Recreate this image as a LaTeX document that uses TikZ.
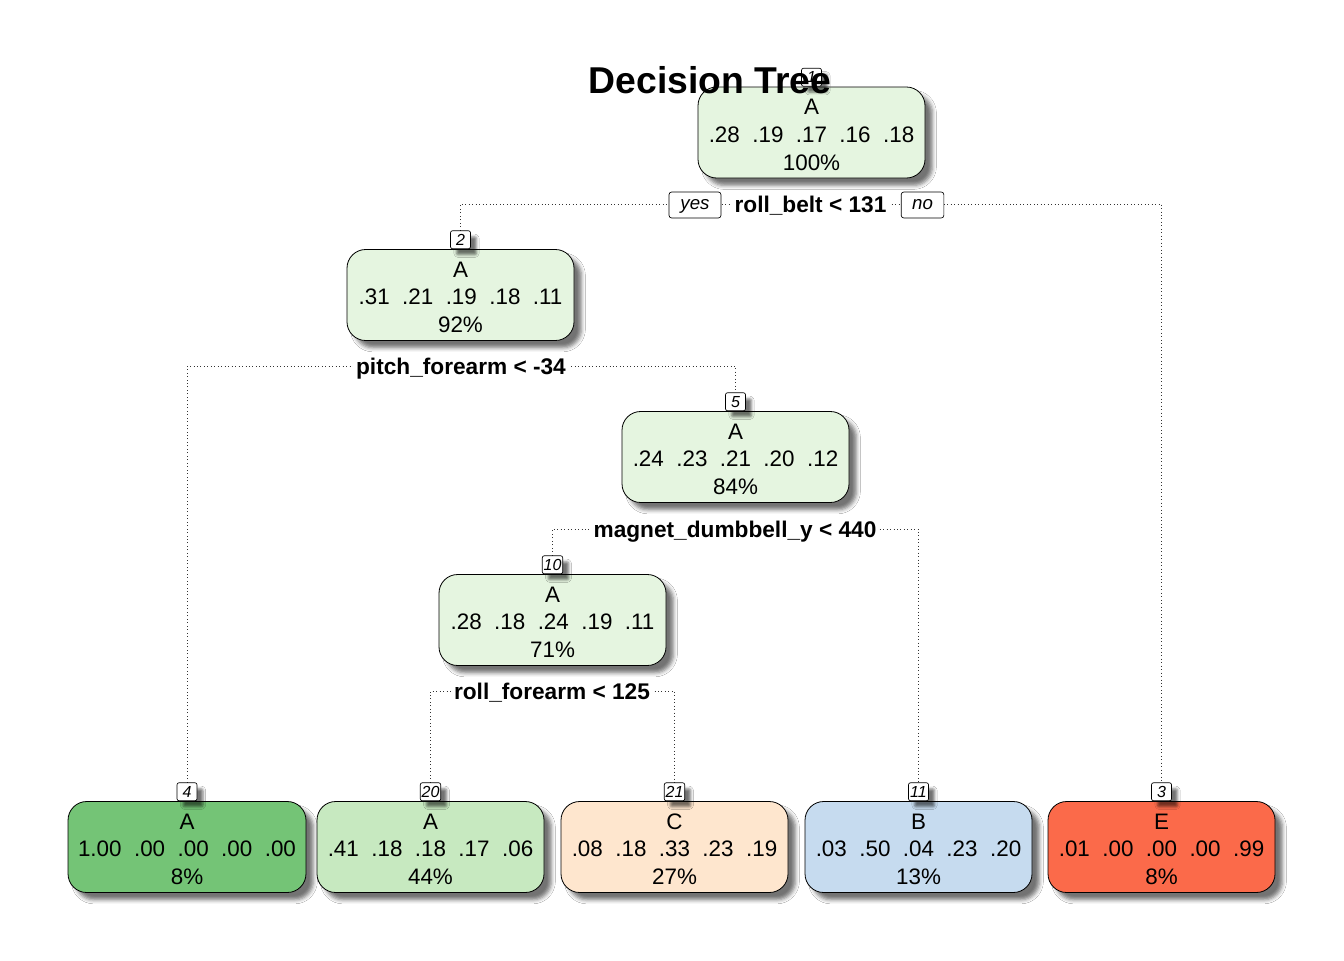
\documentclass[tikz,border=0pt]{standalone}
\usepackage{fontspec}
\setmainfont{Liberation Sans}
\usetikzlibrary{shadows.blur}
\definecolor{innerc}{HTML}{E5F5E0}
\definecolor{leafA}{HTML}{74C476}
\definecolor{leafAl}{HTML}{C7E9C0}
\definecolor{leafC}{HTML}{FEE6CE}
\definecolor{leafB}{HTML}{C6DBEF}
\definecolor{leafE}{HTML}{FB6A4A}
\newcommand\mytopstrut{\rule{0pt}{15pt}}
\pgfdeclarelayer{bg}
\pgfsetlayers{bg,main}
\begin{document}
\begin{tikzpicture}[x=0.75pt,y=-0.75pt,
  treenode/.style={draw=black, line width=0.6pt, rounded corners=14pt,
    minimum width=170.25pt, minimum height=68.25pt, inner xsep=7.5pt, inner ysep=2pt,
    align=center, font=\fontsize{16.8}{20.8}\selectfont,
    blur shadow={shadow xshift=5.5pt, shadow yshift=-5.5pt, shadow blur radius=3pt, shadow opacity=55}},
  numbox/.style={draw=black, line width=0.5pt, fill=white, rounded corners=1.5pt,
    inner sep=1pt, minimum width=15pt, minimum height=13.5pt,
    font=\fontsize{12}{13}\selectfont\itshape,
    blur shadow={shadow xshift=4.5pt, shadow yshift=-4.5pt, shadow blur radius=2pt, shadow opacity=55}},
  split/.style={fill=white, font=\bfseries\fontsize{17}{20}\selectfont,
    text height=12pt, text depth=0pt, inner xsep=2pt, inner ysep=4pt},
  yn/.style={draw=black, line width=0.5pt, fill=white, rounded corners=2pt,
    font=\itshape\fontsize{14}{16}\selectfont, minimum height=19.5pt, inner sep=1pt,
    text height=10pt, text depth=3pt},
  link/.style={dotted, line width=0.6pt, black!80}]
\useasboundingbox (0,0) rectangle (1344,960);

% tree nodes
\node[treenode, fill=innerc] (n1) at (811.5,132.5) {\mytopstrut A\\.28\ \ .19\ \ .17\ \ .16\ \ .18\\100\%};
\node[treenode, fill=innerc] (n2) at (460.5,295) {\mytopstrut A\\.31\ \ .21\ \ .19\ \ .18\ \ .11\\92\%};
\node[treenode, fill=innerc] (n5) at (735.5,457) {\mytopstrut A\\.24\ \ .23\ \ .21\ \ .20\ \ .12\\84\%};
\node[treenode, fill=innerc] (n10) at (552.5,620) {\mytopstrut A\\.28\ \ .18\ \ .24\ \ .19\ \ .11\\71\%};
\node[treenode, fill=leafA] (n4) at (187,847) {\mytopstrut A\\1.00\ \ .00\ \ .00\ \ .00\ \ .00\\8\%};
\node[treenode, fill=leafAl] (n20) at (430.5,847) {\mytopstrut A\\.41\ \ .18\ \ .18\ \ .17\ \ .06\\44\%};
\node[treenode, fill=leafC] (n21) at (674.5,847) {\mytopstrut C\\.08\ \ .18\ \ .33\ \ .23\ \ .19\\27\%};
\node[treenode, fill=leafB] (n11) at (918.5,847) {\mytopstrut B\\.03\ \ .50\ \ .04\ \ .23\ \ .20\\13\%};
\node[treenode, fill=leafE] (n3) at (1161.5,847) {\mytopstrut E\\.01\ \ .00\ \ .00\ \ .00\ \ .99\\8\%};

% number boxes
\node[numbox, anchor=south] (k1) at (n1.north) {1};
\node[numbox, anchor=south] (k2) at (n2.north) {2};
\node[numbox, anchor=south] (k5) at (n5.north) {5};
\node[numbox, anchor=south] (k10) at (n10.north) {10};
\node[numbox, anchor=south] (k4) at (n4.north) {4};
\node[numbox, anchor=south] (k20) at (n20.north) {20};
\node[numbox, anchor=south] (k21) at (n21.north) {21};
\node[numbox, anchor=south] (k11) at (n11.north) {11};
\node[numbox, anchor=south] (k3) at (n3.north) {3};

% split labels
\node[split] (s1) at (810.5,204) {roll\_belt < 131};
\node[split] (s2) at (461,366) {pitch\_forearm < -34};
\node[split] (s5) at (735,529) {magnet\_dumbbell\_y < 440};
\node[split] (s10) at (552,691) {roll\_forearm < 125};
\node[yn, minimum width=39pt] (yes) at (695,205) {yes};
\node[yn, minimum width=32pt] (no) at (922.5,205) {no};

% connectors and background
\begin{pgfonlayer}{bg}
\fill[white] (0,0) rectangle (1344,960);
\draw[link] (k2.north) |- (s1.center) -| (k3.north);
\draw[link] (k4.north) |- (s2.center) -| (k5.north);
\draw[link] (k10.north) |- (s5.center) -| (k11.north);
\draw[link] (k20.north) |- (s10.center) -| (k21.north);
\end{pgfonlayer}

% title
\node[font=\bfseries\fontsize{28}{32}\selectfont] (title) at (710,80) {Decision Tree};
\end{tikzpicture}
\end{document}
